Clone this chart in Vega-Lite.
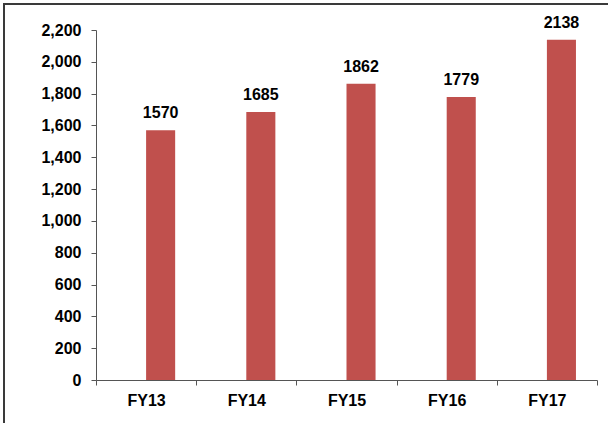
{
  "$schema": "https://vega.github.io/schema/vega-lite/v6.json",
  "width": 606,
  "height": 421,
  "autosize": "none",
  "padding": {"left": 4, "top": 4, "right": 0, "bottom": 0},
  "background": "white",
  "config": {
    "view": {"stroke": "#3a3a3a", "strokeWidth": 2},
    "font": "Liberation Sans"
  },
  "data": {
    "values": [
      {"year": "FY13", "series": "Value", "value": 1570},
      {"year": "FY14", "series": "Value", "value": 1685},
      {"year": "FY15", "series": "Value", "value": 1862},
      {"year": "FY16", "series": "Value", "value": 1779},
      {"year": "FY17", "series": "Value", "value": 2138}
    ]
  },
  "encoding": {
    "x": {
      "field": "year",
      "type": "nominal",
      "sort": null,
      "scale": {"range": [92, 593], "paddingInner": 0, "paddingOuter": 0},
      "axis": {
        "title": null,
        "labelAngle": 0,
        "offset": -45,
        "tickBand": "extent",
        "tickSize": 5,
        "tickColor": "#555555",
        "domainColor": "#555555",
        "labelFont": "Liberation Sans",
        "labelFontSize": 16,
        "labelFontWeight": "bold",
        "labelColor": "#000000",
        "labelPadding": 7
      }
    },
    "xOffset": {
      "field": "series",
      "type": "nominal",
      "scale": {"domain": ["Empty", "Value"], "paddingInner": 0, "paddingOuter": 0.724}
    },
    "y": {
      "field": "value",
      "type": "quantitative",
      "scale": {"domain": [0, 2200], "range": [376, 26], "nice": false},
      "axis": {
        "title": null,
        "values": [0, 200, 400, 600, 800, 1000, 1200, 1400, 1600, 1800, 2000, 2200],
        "format": ",d",
        "grid": false,
        "offset": -92,
        "tickSize": 5,
        "tickColor": "#555555",
        "domainColor": "#555555",
        "labelFont": "Liberation Sans",
        "labelFontSize": 16,
        "labelFontWeight": "bold",
        "labelColor": "#000000",
        "labelPadding": 10
      }
    }
  },
  "layer": [
    {"mark": {"type": "bar", "color": "#C0504D"}},
    {
      "mark": {"type": "text", "baseline": "bottom", "dy": -9, "fontSize": 16, "fontWeight": "bold", "font": "Liberation Sans", "color": "#000000"},
      "encoding": {"text": {"field": "value", "type": "quantitative", "format": "d"}}
    }
  ]
}
